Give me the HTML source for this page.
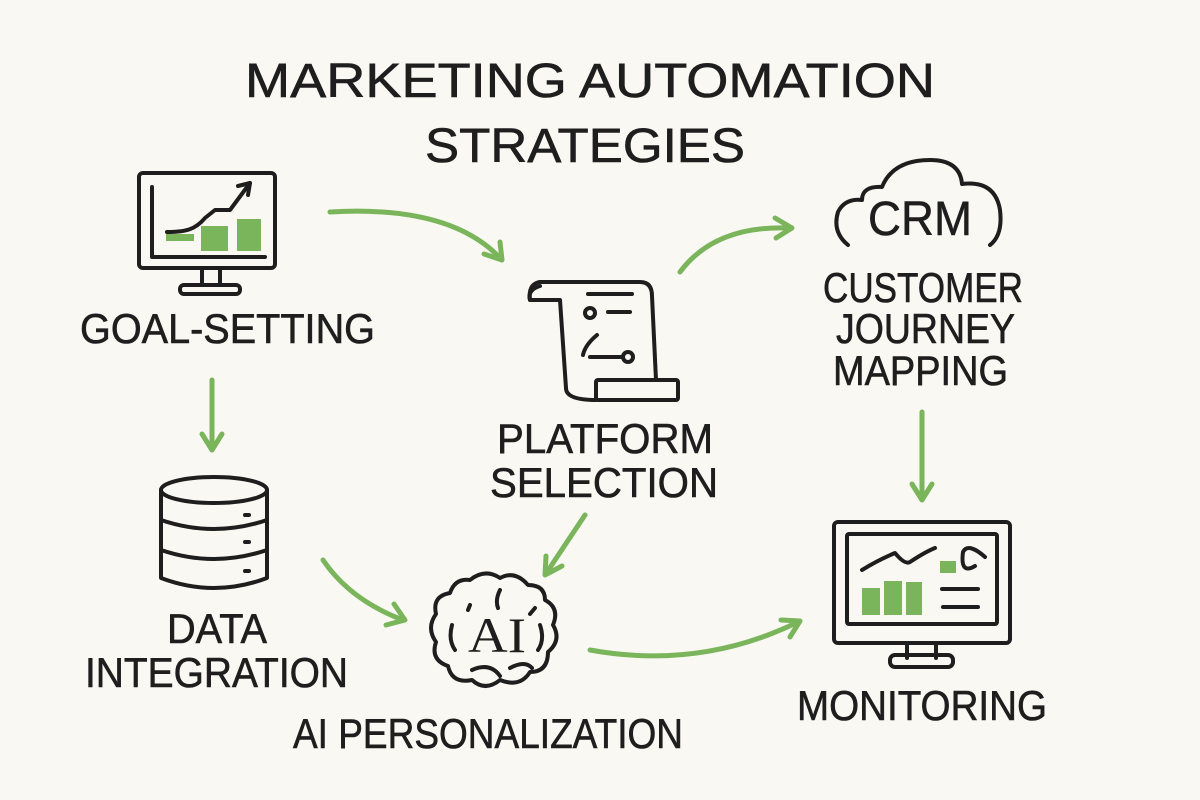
<!DOCTYPE html>
<html><head><meta charset="utf-8"><style>
html,body{margin:0;padding:0;background:#f9f8f2;}
svg{display:block}
text{font-family:"Liberation Sans",sans-serif;fill:#1e1e1e;}
</style></head><body>
<svg width="1200" height="800" viewBox="0 0 1200 800" xmlns="http://www.w3.org/2000/svg">
<rect width="1200" height="800" fill="#f9f8f2"/>
<g font-size="48" stroke="#1e1e1e" stroke-width="0.6">
<text x="245" y="97" textLength="690" lengthAdjust="spacingAndGlyphs">MARKETING AUTOMATION</text>
<text x="425" y="162" textLength="320" lengthAdjust="spacingAndGlyphs">STRATEGIES</text>
</g>
<g font-size="42" stroke="#1e1e1e" stroke-width="0.6">
<text x="80" y="343" textLength="295" lengthAdjust="spacingAndGlyphs">GOAL-SETTING</text>
<text x="497" y="453" textLength="216" lengthAdjust="spacingAndGlyphs">PLATFORM</text>
<text x="490" y="497" textLength="228" lengthAdjust="spacingAndGlyphs">SELECTION</text>
<text x="823" y="302" textLength="200" lengthAdjust="spacingAndGlyphs">CUSTOMER</text>
<text x="836" y="343" textLength="179" lengthAdjust="spacingAndGlyphs">JOURNEY</text>
<text x="833" y="385" textLength="175" lengthAdjust="spacingAndGlyphs">MAPPING</text>
<text x="167" y="643" textLength="100" lengthAdjust="spacingAndGlyphs">DATA</text>
<text x="85" y="687" textLength="263" lengthAdjust="spacingAndGlyphs">INTEGRATION</text>
<text x="293" y="748" textLength="390" lengthAdjust="spacingAndGlyphs">AI PERSONALIZATION</text>
<text x="797" y="720" textLength="250" lengthAdjust="spacingAndGlyphs">MONITORING</text>
</g>
<g fill="none" stroke="#1e1e1e" stroke-width="4" stroke-linecap="round" stroke-linejoin="round">
<rect x="139" y="173" width="136" height="95" rx="4"/>
<path d="M152 187 V257 H265"/>
<path d="M167 232 C185 232 195 230 205 218 L215 210 L230 210 L250 183"/>
<path d="M238 186 L250 183 L248 195"/>
<path d="M202 268 V285 M220 268 V285"/>
<rect x="180" y="285" width="60" height="9" rx="4"/>
<ellipse cx="214" cy="490" rx="53" ry="13"/>
<path d="M161 490 V578 Q214 598 267 578 V490"/>
<path d="M161 520 Q214 538 267 520 M161 550 Q214 568 267 550"/>
<path d="M245 515 h4 M245 542 h4 M245 571 h4"/>
<path d="M540 282 H640 Q652 282 652 296 L656 380"/>
<path d="M540 282 Q528 284 530 300 H560 L566 388"/>
<path d="M530 300 Q527 290 540 286"/>
<rect x="596" y="380" width="82" height="20" rx="2"/>
<path d="M566 388 Q566 400 596 400"/>
<path d="M588 294 H632 M608 312 H630"/>
<circle cx="590" cy="313" r="5"/>
<path d="M597 335 Q585 345 583 355 M590 357 H622"/>
<circle cx="628" cy="357" r="5"/>
<path d="M848 245 Q832 232 838 212 Q845 198 862 200 Q862 186 882 187 Q893 160 930 160 Q960 160 962 184 Q995 180 1000 210 Q1003 235 990 245"/>
<path d="M470 580 Q485 568 500 578 Q515 570 528 585 Q545 585 545 600 Q560 608 553 625 Q562 640 548 652 Q548 672 530 672 Q520 688 500 680 Q485 692 472 680 Q452 684 448 666 Q430 660 436 642 Q426 628 436 614 Q432 596 450 593 Q455 578 470 580 Z"/>
<path d="M452 625 Q448 640 455 650 M540 625 Q545 640 538 650 M472 670 Q490 662 500 676 M510 668 Q525 660 532 668 M500 590 Q495 600 498 608 M470 605 L468 610 M535 608 L530 614"/>
<rect x="834" y="522" width="176" height="121" rx="4"/>
<rect x="847" y="534" width="150" height="90" rx="2"/>
<path d="M862 570 Q878 560 895 553 Q905 565 910 562 Q925 552 935 548"/>
<path d="M975 566 Q960 575 963 552 Q968 542 985 557"/>
<path d="M942 589 H978 M943 607 H978"/>
<path d="M907 643 V658 M936 643 V658"/>
<rect x="890" y="655" width="63" height="12" rx="5"/>
</g>
<text x="868" y="235" font-size="48" textLength="104" lengthAdjust="spacingAndGlyphs" stroke="#1e1e1e" stroke-width="0.5">CRM</text>
<text x="468" y="652" font-size="50" textLength="58" lengthAdjust="spacingAndGlyphs" style="font-family:'Liberation Serif',serif">AI</text>
<g fill="#7ab55c">
<rect x="166" y="234" width="28" height="7"/>
<rect x="201" y="226" width="27" height="25"/>
<rect x="237" y="219" width="24" height="32"/>
<rect x="862" y="588" width="18" height="27"/>
<rect x="884" y="581" width="18" height="34"/>
<rect x="906" y="582" width="16" height="33"/>
<rect x="940" y="561" width="16" height="12"/>
</g>
<g fill="none" stroke="#7ab55c" stroke-width="5" stroke-linecap="round" stroke-linejoin="round">
<path d="M330 212 Q450 205 500 258"/><path d="M484 254 L502 260 L500 242"/>
<path d="M680 272 Q715 225 790 228"/><path d="M775 218 L792 228 L776 238"/>
<path d="M212 380 V448"/><path d="M202 434 L212 450 L222 434"/>
<path d="M922 412 V498"/><path d="M912 484 L922 500 L932 484"/>
<path d="M585 515 L547 572"/><path d="M546 556 L545 575 L562 566"/>
<path d="M323 560 Q350 600 403 620"/><path d="M386 625 L405 620 L394 604"/>
<path d="M590 650 Q700 670 798 622"/><path d="M781 620 L800 621 L790 637"/>
</g>
</svg>
</body></html>
